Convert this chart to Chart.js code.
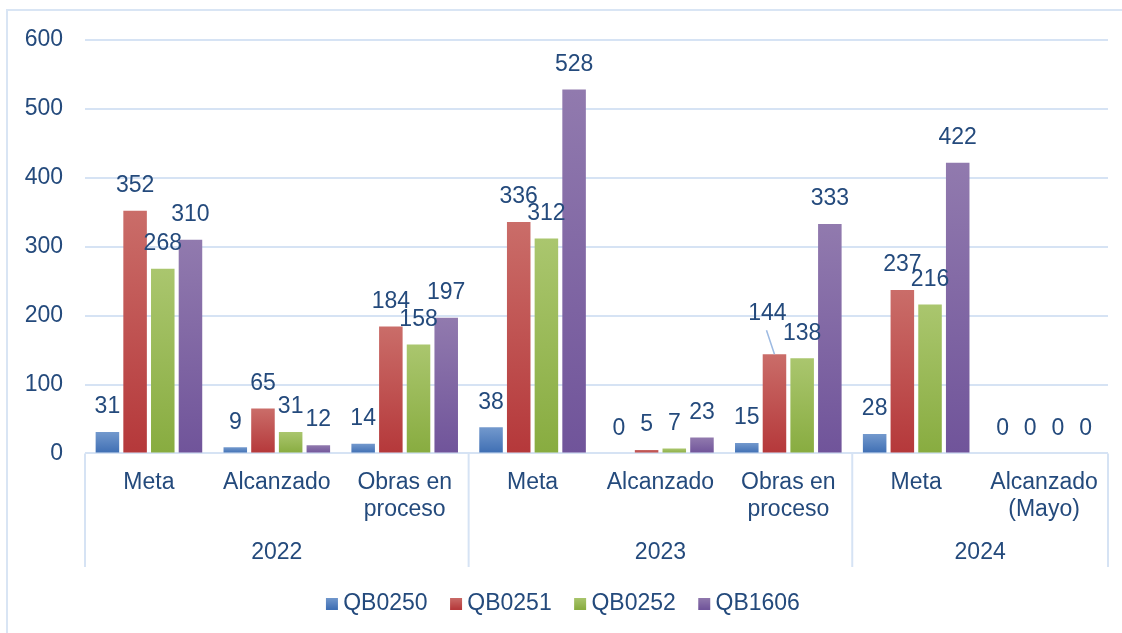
<!DOCTYPE html>
<html><head><meta charset="utf-8">
<script src="https://cdn.jsdelivr.net/npm/chart.js@4/dist/chart.umd.min.js"></script>
<style>html,body{margin:0;padding:0;background:#fff;}#wrap{position:relative;width:1122px;height:633px;}</style>
</head><body><div id="wrap"><canvas id="c" width="1122" height="633"></canvas></div>
<script>
const categories = ['Meta','Alcanzado','Obras en\nproceso','Meta','Alcanzado','Obras en\nproceso','Meta','Alcanzado\n(Mayo)'];
const years = ['2022','2023','2024'];
const yearSpans = [3,3,2];
const seriesNames = ['QB0250','QB0251','QB0252','QB1606'];
const qb0250 = [31,9,14,38,0,15,28,0];
const qb0251 = [352,65,184,336,5,144,237,0];
const qb0252 = [268,31,158,312,7,138,216,0];
const qb1606 = [310,12,197,528,23,333,422,0];
const yMin = 0, yMax = 600, yStep = 100;

const TXT = '#244A7C';
const GRID = '#D6E3F4';
const FONT = '"Liberation Sans", Arial, sans-serif';
const FS = 23;

function grad(top, bottom, mid){
  return (ctx) => {
    if (ctx.type !== 'data') return mid;
    const chart = ctx.chart, ys = chart.scales && chart.scales.y;
    if (!chart.chartArea || !ys) return mid;
    const y0 = ys.getPixelForValue(0), y1 = ys.getPixelForValue(ctx.raw);
    if (!isFinite(y0) || !isFinite(y1) || Math.abs(y0 - y1) < 1) return bottom;
    const g = chart.ctx.createLinearGradient(0, y1, 0, y0);
    g.addColorStop(0, top); g.addColorStop(1, bottom);
    return g;
  };
}
const styles = [
  ['#7399CD', '#3E6EB3', '#5883C1'],
  ['#CA6D69', '#B5383A', '#C05250'],
  ['#AAC66E', '#88AC40', '#99B957'],
  ['#917AAE', '#70549A', '#8066A4']
];
const seriesValues = [qb0250, qb0251, qb0252, qb1606];

// legend swatches: 12px gradient square placed at right part of a transparent canvas
function swatch(st){
  const cv = document.createElement('canvas');
  cv.width = 50; cv.height = 12;
  const c = cv.getContext('2d');
  const g = c.createLinearGradient(0, 0, 0, 12);
  g.addColorStop(0, st[0]); g.addColorStop(1, st[1]);
  c.fillStyle = g; c.fillRect(31, 0, 12, 12);
  return cv;
}
const swatches = styles.map(swatch);

// special label placement (label moved with leader line)
const labelAdjust = { '1-5': {dx: -7, dy: -16} };

const outerBorder = {
  id: 'outerBorder',
  beforeDraw(chart){
    const c = chart.ctx; c.save();
    c.strokeStyle = '#D9E5F4'; c.lineWidth = 2;
    c.beginPath(); c.moveTo(7, 633); c.lineTo(7, 10); c.lineTo(1122, 10); c.stroke();
    c.restore();
  }
};

const yearAxis = {
  id: 'yearAxis',
  afterDraw(chart){
    const xs = chart.scales.x, c = chart.ctx, ca = chart.chartArea;
    const w = xs.getPixelForValue(1) - xs.getPixelForValue(0);
    c.save();
    c.strokeStyle = GRID; c.lineWidth = 2;
    c.fillStyle = TXT; c.font = FS + 'px ' + FONT; c.textAlign = 'center'; c.textBaseline = 'middle';
    let idx = 0;
    const bounds = [xs.getPixelForValue(0) - w/2];
    years.forEach((yr, k) => {
      const s = idx, e = idx + yearSpans[k] - 1;
      const l = xs.getPixelForValue(s) - w/2, r = xs.getPixelForValue(e) + w/2;
      bounds.push(r);
      c.fillText(yr, (l + r)/2, 553);
      idx += yearSpans[k];
    });
    bounds.forEach(b => { c.beginPath(); c.moveTo(b, ca.bottom); c.lineTo(b, 567); c.stroke(); });
    c.restore();
  }
};

const barLabels = {
  id: 'barLabels',
  afterDatasetsDraw(chart){
    const c = chart.ctx; c.save();
    c.font = FS + 'px ' + FONT; c.fillStyle = TXT; c.textAlign = 'center'; c.textBaseline = 'middle';
    chart.data.datasets.forEach((ds, di) => {
      const meta = chart.getDatasetMeta(di);
      meta.data.forEach((bar, i) => {
        let x = bar.x, y = bar.y - 25;
        const adj = labelAdjust[di + '-' + i];
        if (adj) {
          x += adj.dx; y += adj.dy;
          c.save(); c.strokeStyle = '#9DBAE2'; c.lineWidth = 1.5;
          c.beginPath(); c.moveTo(x - 1, y + 17); c.lineTo(bar.x, bar.y); c.stroke(); c.restore();
        }
        c.fillText(String(ds.data[i]), x, y);
      });
    });
    c.restore();
  }
};

new Chart(document.getElementById('c'), {
  type: 'bar',
  data: {
    labels: categories.map(s => s.split('\n')),
    datasets: seriesNames.map((n, i) => ({
      label: n,
      data: seriesValues[i],
      backgroundColor: grad(styles[i][0], styles[i][1], styles[i][2]),
      borderWidth: 0,
      categoryPercentage: 0.866,
      barPercentage: 0.85
    }))
  },
  options: {
    responsive: false,
    animation: false,
    devicePixelRatio: 1,
    layout: { padding: { top: 40, right: 14, bottom: 8, left: 0 } },
    scales: {
      x: {
        grid: { display: false, drawTicks: false },
        border: { display: false },
        ticks: { color: TXT, font: { family: FONT, size: FS, lineHeight: 1.2 }, padding: 15, maxRotation: 0, autoSkip: false },
        afterFit(s){ s.height = 134; }
      },
      y: {
        min: yMin, max: yMax,
        grid: { color: GRID, lineWidth: 2, drawTicks: false },
        border: { display: false },
        ticks: { stepSize: yStep, color: TXT, font: { family: FONT, size: FS }, padding: 22 },
        afterFit(s){ s.width = 85; }
      }
    },
    plugins: {
      legend: {
        position: 'bottom',
        labels: {
          usePointStyle: true, pointStyleWidth: 23.6, boxHeight: 12,
          padding: 4.6, color: TXT, font: { family: FONT, size: FS },
          generateLabels(chart){
            return chart.data.datasets.map((ds, i) => ({
              text: ds.label, fillStyle: styles[i][2], strokeStyle: 'rgba(0,0,0,0)',
              lineWidth: 0, hidden: false, datasetIndex: i, pointStyle: swatches[i], fontColor: TXT
            }));
          }
        }
      },
      tooltip: { enabled: false }
    }
  },
  plugins: [outerBorder, yearAxis, barLabels]
});
</script></body></html>
